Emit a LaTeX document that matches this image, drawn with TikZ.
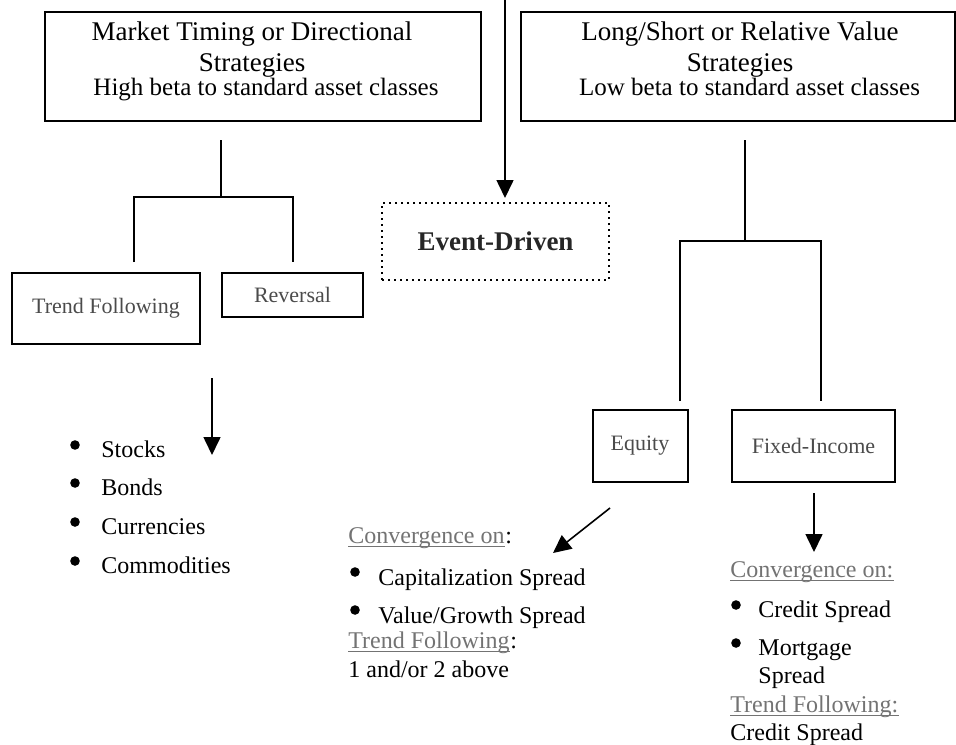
\documentclass[tikz,border=0pt]{standalone}
\usepackage{fontspec}
\setmainfont{Liberation Serif}
\usetikzlibrary{arrows.meta}
\definecolor{boxgray}{RGB}{75,75,75}
\definecolor{ulgray}{RGB}{115,115,115}
\begin{document}
\begin{tikzpicture}[x=0.5pt,y=-0.5pt,
  box/.style={draw, line width=1pt, inner sep=0pt},
  conn/.style={line width=0.8pt},
  arr/.style={conn, -{Triangle[length=9pt,width=8.5pt]}},
  ttl/.style={inner sep=0pt, anchor=base, font=\fontsize{13.5}{16}\selectfont},
  sub/.style={inner sep=0pt, anchor=base, font=\fontsize{12.5}{15}\selectfont},
  btxt/.style={inner sep=0pt, text=boxgray, font=\fontsize{11}{13}\selectfont},
  txt/.style={inner sep=0pt, anchor=base west, font=\fontsize{12}{14}\selectfont},
  ultxt/.style={txt, text=ulgray},
  ul/.style={ulgray, line width=0.6pt},
  bul/.style={circle, fill=black, inner sep=0pt, minimum size=4.8pt},
]
\useasboundingbox (0,0) rectangle (956,744);

% top boxes
\node[box, minimum width=218pt, minimum height=54.5pt] (mt) at (263,66.5) {};
\node[ttl] (mt1) at (252,40) {Market Timing or Directional};
\node[ttl] (mt2) at (252,71) {Strategies};
\node[sub] (mt3) at (266,95) {High beta to standard asset classes};

\node[box, minimum width=217pt, minimum height=54.5pt] (ls) at (738,66.5) {};
\node[ttl] (ls1) at (740,40) {Long/Short or Relative Value};
\node[ttl] (ls2) at (740,71) {Strategies};
\node[sub] (ls3) at (749.5,95) {Low beta to standard asset classes};

% event driven
\node[draw, dotted, line width=1pt, minimum width=113.5pt, minimum height=38.5pt,
      font=\fontsize{13.5}{16}\selectfont\bfseries, text=black!85] (ev) at (495.5,241.5) {Event-Driven};
\coordinate (top) at (505,0);
\coordinate (toptip) at (505,198);
\draw[arr] (top) -- (toptip);

% left tree
\node[box, minimum width=94pt, minimum height=35.5pt, btxt] (tf) at (106,308.5) {Trend Following};
\node[box, minimum width=70.5pt, minimum height=22pt, btxt] (rv) at (292.5,295) {Reversal};
\coordinate (lt) at (221,140);
\coordinate (lj) at (221,197);
\coordinate (ll) at (134,197);
\coordinate (lr) at (293,197);
\coordinate (lla) at (134,262);
\coordinate (lra) at (293,262);
\draw[conn] (lt) -- (lj);
\draw[conn] (lla) -- (ll) -- (lr) -- (lra);

% right tree
\node[box, minimum width=47.5pt, minimum height=36pt, btxt] (eq) at (640,446) {Equity};
\node[box, minimum width=81.5pt, minimum height=36pt, btxt] (fi) at (813.5,446) {Fixed-Income};
\coordinate (rt) at (745,140);
\coordinate (rj) at (745,241);
\coordinate (rl) at (680,241);
\coordinate (rr) at (821,241);
\coordinate (rla) at (680,401);
\coordinate (rra) at (821,401);
\draw[conn] (rt) -- (rj);
\draw[conn] (rla) -- (rl) -- (rr) -- (rra);

% left list
\coordinate (la0) at (212,378);
\coordinate (la1) at (212,455);
\draw[arr] (la0) -- (la1);
\node[bul] (b1) at (75,445) {};
\node[txt] (s1) at (101,457) {Stocks};
\node[bul] (b2) at (75,483) {};
\node[txt] (s2) at (101,495) {Bonds};
\node[bul] (b3) at (75,522) {};
\node[txt] (s3) at (101,534) {Currencies};
\node[bul] (b4) at (75,561) {};
\node[txt] (s4) at (101,573) {Commodities};

% equity list
\coordinate (ea0) at (610,508);
\coordinate (ea1) at (553,553);
\draw[arr] (ea0) -- (ea1);
\node[ultxt] (ec) at (348,543) {Convergence on};
\node[txt] (ecc) at (ec.base east) {:};
\draw[ul] ([yshift=-1.6pt]ec.base west) -- ([yshift=-1.6pt]ec.base east);
\node[bul] (eb1) at (355,572) {};
\node[txt] (e1) at (378,585) {Capitalization Spread};
\node[bul] (eb2) at (355,610) {};
\node[txt] (e2) at (378,623) {Value/Growth Spread};
\node[ultxt] (et) at (348,648) {Trend Following};
\node[txt] (etc) at (et.base east) {:};
\draw[ul] ([yshift=-1.6pt]et.base west) -- ([yshift=-1.6pt]et.base east);
\node[txt] (e3) at (348,677) {1 and/or 2 above};

% fixed income list
\coordinate (fa0) at (814,493);
\coordinate (fa1) at (814,552);
\draw[arr] (fa0) -- (fa1);
\node[ultxt] (fc) at (730,577) {Convergence on:};
\draw[ul] ([yshift=-1.6pt]fc.base west) -- ([yshift=-1.6pt]fc.base east);
\node[bul] (fb1) at (736,605) {};
\node[txt] (f1) at (758,617) {Credit Spread};
\node[bul] (fb2) at (736,643) {};
\node[txt] (f2) at (758,655) {Mortgage};
\node[txt] (f2b) at (758,683) {Spread};
\node[ultxt] (ft) at (730,712) {Trend Following:};
\draw[ul] ([yshift=-1.6pt]ft.base west) -- ([yshift=-1.6pt]ft.base east);
\node[txt] (f3) at (730,740) {Credit Spread};
\end{tikzpicture}
\end{document}
